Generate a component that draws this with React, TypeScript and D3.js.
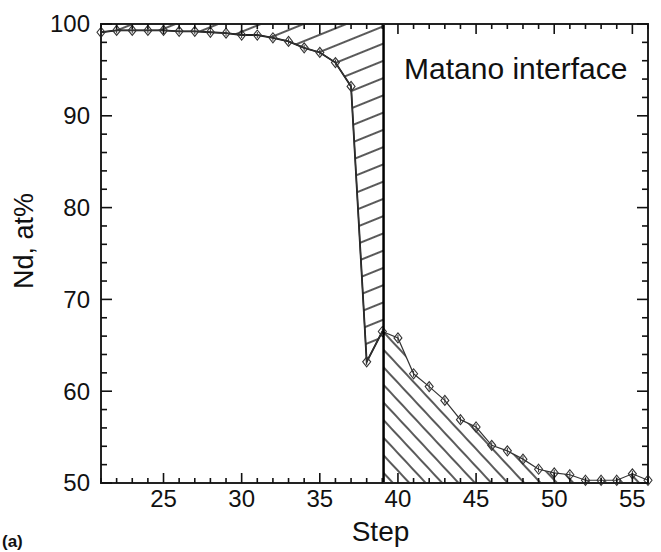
import React from "react";
import { scaleLinear, line, range } from "d3";

// Nd concentration profile across the diffusion couple
const steps = [21, 22, 23, 24, 25, 26, 27, 28, 29, 30, 31, 32, 33, 34, 35, 36, 37, 38,
  39, 40, 41, 42, 43, 44, 45, 46, 47, 48, 49, 50, 51, 52, 53, 54, 55, 56];
const ndAt = [99.1, 99.3, 99.3, 99.3, 99.3, 99.2, 99.2, 99.1, 99.0, 98.8, 98.8, 98.5,
  98.1, 97.4, 96.9, 95.8, 93.2, 63.2, 66.5, 65.8, 61.9, 60.5, 59.0, 56.9, 56.1, 54.1,
  53.5, 52.6, 51.5, 51.1, 50.9, 50.3, 50.3, 50.3, 51.0, 50.3];
const matanoStep = 39.08;
const xTicks = [25, 30, 35, 40, 45, 50, 55];
const yTicks = [50, 60, 70, 80, 90, 100];
const xDomain = [21, 56];
const yDomain = [50, 100];

const W = 661;
const H = 552;
const L = 101, R = 648, T = 24, B = 483;
const font = "'Liberation Sans', Arial, Helvetica, sans-serif";

export default function App() {
  const x = scaleLinear().domain(xDomain).range([L, R]);
  const y = scaleLinear().domain(yDomain).range([B, T]);
  const pts = steps.map((s, i) => [s, ndAt[i]] as [number, number]);

  const path = line<[number, number]>().x(d => x(d[0])).y(d => y(d[1]));

  // value of the profile where the Matano plane cuts it
  const i39 = steps.indexOf(39);
  const t = matanoStep - 39;
  const atMatano = ndAt[i39] + t * (ndAt[i39 + 1] - ndAt[i39]);

  const leftArea: [number, number][] = [
    [xDomain[0], yDomain[1]],
    ...pts.filter(p => p[0] <= 39),
    [matanoStep, atMatano],
    [matanoStep, yDomain[1]],
  ];
  const rightArea: [number, number][] = [
    [matanoStep, yDomain[0]],
    [matanoStep, atMatano],
    ...pts.filter(p => p[0] > 39),
    [xDomain[1], yDomain[0]],
  ];
  const poly = (a: [number, number][]) => path(a) + "Z";

  const xMinor = range(21, 57, 1);
  const yMinor = range(50, 101, 2);

  return (
    <svg width={W} height={H} style={{ position: "absolute", left: 0, top: 0, background: "#fff" }}>
      <defs>
        <pattern id="hatchL" patternUnits="userSpaceOnUse" width={20} height={16}
          patternTransform="rotate(-22)">
          <line x1={0} x2={20} y1={8} y2={8} stroke="#000" strokeWidth={1.3} />
        </pattern>
        <pattern id="hatchR" patternUnits="userSpaceOnUse" width={20} height={12}
          patternTransform="rotate(47)">
          <line x1={0} x2={20} y1={6} y2={6} stroke="#000" strokeWidth={1.3} />
        </pattern>
        <clipPath id="plot">
          <rect x={L} y={T} width={R - L} height={B - T} />
        </clipPath>
      </defs>

      <g clipPath="url(#plot)">
        <path d={poly(leftArea)} fill="url(#hatchL)" />
        <path d={poly(rightArea)} fill="url(#hatchR)" />
        <path d={path(leftArea.slice(1, -2)) || ""} fill="none" stroke="#111" strokeWidth={1.8} />
      </g>

      {/* data line + markers */}
      <path d={path(pts) || ""} fill="none" stroke="#333" strokeWidth={1.2} />
      {pts.map((p, i) => (
        <g key={i} transform={`translate(${x(p[0])},${y(p[1])})`}>
          <path d="M0,-5L4,0L0,5L-4,0Z" fill="none" stroke="#333" strokeWidth={1.1} />
          <line x1={0} x2={0} y1={-3} y2={3} stroke="#333" strokeWidth={1} />
        </g>
      ))}

      {/* Matano plane */}
      <line x1={x(matanoStep)} x2={x(matanoStep)} y1={T} y2={B} stroke="#000" strokeWidth={2.5} />

      {/* frame and ticks */}
      <rect x={L} y={T} width={R - L} height={B - T} fill="none" stroke="#222" strokeWidth={2} />
      {xMinor.map(v => {
        const len = v % 5 === 0 ? 10 : 5;
        return (
          <g key={"xt" + v} stroke="#111" strokeWidth={1.6}>
            <line x1={x(v)} x2={x(v)} y1={B} y2={B - len} />
            <line x1={x(v)} x2={x(v)} y1={T} y2={T + len} />
          </g>
        );
      })}
      {yMinor.map(v => {
        const len = v % 10 === 0 ? 11 : 6;
        return (
          <g key={"yt" + v} stroke="#111" strokeWidth={1.6}>
            <line x1={L} x2={L + len} y1={y(v)} y2={y(v)} />
            <line x1={R} x2={R - len} y1={y(v)} y2={y(v)} />
          </g>
        );
      })}

      {/* tick labels */}
      {xTicks.map(v => (
        <text key={"xl" + v} x={x(v)} y={507} textAnchor="middle" fontFamily={font}
          fontSize={24} fill="#111">{v}</text>
      ))}
      {yTicks.map(v => (
        <text key={"yl" + v} x={90} y={y(v)} dy="0.35em" textAnchor="end" fontFamily={font}
          fontSize={24} fill="#111">{v}</text>
      ))}

      <text x={(L + R) / 2 + 6} y={541} textAnchor="middle" fontFamily={font} fontSize={28}
        fill="#111">Step</text>
      <text transform={`translate(33,241) rotate(-90)`} textAnchor="middle" fontFamily={font}
        fontSize={27} fill="#111">Nd, at%</text>
      <text x={404} y={79} fontFamily={font} fontSize={30} fill="#111">Matano interface</text>
      <text x={2} y={547} fontFamily={font} fontSize={17} fontWeight="bold" fill="#111">(a)</text>
    </svg>
  );
}
